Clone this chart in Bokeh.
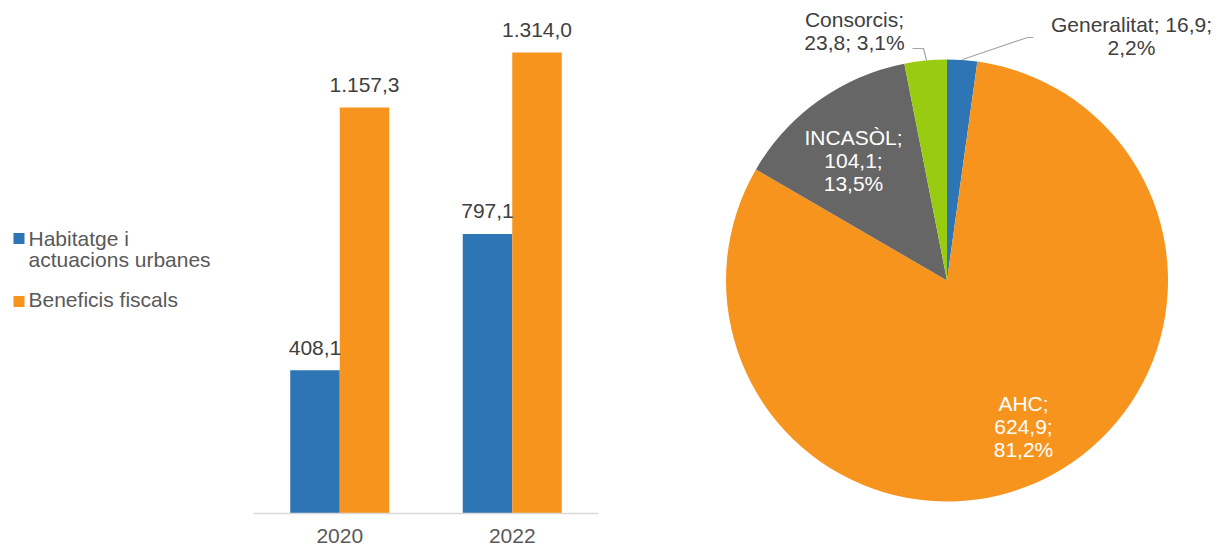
import math
from bokeh.plotting import figure
from bokeh.layouts import row
from bokeh.models import ColumnDataSource, Range1d, FactorRange
from bokeh.transform import dodge
from bokeh.core.properties import value
from bokeh.embed import file_html
from bokeh.resources import INLINE

# ---------------- data ----------------
years = ["2020", "2022"]
habitatge = [408.1, 797.1]
beneficis = [1157.3, 1314.0]
series_names = ["Habitatge i\nactuacions urbanes", "Beneficis fiscals"]

pie_names = ["Generalitat", "AHC", "INCASÒL", "Consorcis"]
pie_values = [16.9, 624.9, 104.1, 23.8]
pie_pcts = [2.2, 81.2, 13.5, 3.1]

BLUE = "#2E75B6"
ORANGE = "#F7941E"
GRAY = "#666666"
GREEN = "#99CC11"
FONT = "Liberation Sans"
FS = "21px"

def fmt(v):
    s = f"{v:,.1f}"
    return s.replace(",", "X").replace(".", ",").replace("X", ".")

FH = 513  # common frame height

# ---------------- legend figure ----------------
LW = 248
lg = figure(frame_width=LW, frame_height=FH, x_range=Range1d(0, LW), y_range=Range1d(FH, 0),
            output_backend="svg", toolbar_location=None,
            x_axis_location=None, y_axis_location=None,
            min_border=0, outline_line_color=None)
lg.grid.visible = False
lg.rect(x=[18.5, 18.5], y=[238, 301], width=11, height=11,
        color=[BLUE, ORANGE], line_color=None)
lg.text(x=[28, 28], y=[248.5, 298.5], text=series_names,
        text_font=value(FONT), text_font_size=FS, text_color="#595959",
        text_baseline="middle", text_align="left", text_line_height=0.89)

# ---------------- bar figure ----------------
YMAX = FH / 0.3508
src = ColumnDataSource(dict(year=years, hab=habitatge, ben=beneficis,
                            hab_lbl=[fmt(v) for v in habitatge],
                            ben_lbl=[fmt(v) for v in beneficis]))
off = 22.5 * YMAX / FH
src.data["hab_y"] = [v + off for v in habitatge]
src.data["ben_y"] = [v + off for v in beneficis]

bar = figure(frame_width=345, frame_height=FH, x_range=FactorRange(*years, range_padding=0),
             y_range=Range1d(0, YMAX), output_backend="svg", toolbar_location=None,
             min_border_left=5, min_border_right=20, min_border_top=0,
             min_border_bottom=0, outline_line_color=None)
bar.grid.visible = False
bar.yaxis.visible = False
W = 0.287
bar.vbar(x=dodge("year", -W / 2, range=bar.x_range), top="hab", width=W,
         source=src, color=BLUE, line_color=None)
bar.vbar(x=dodge("year", W / 2, range=bar.x_range), top="ben", width=W,
         source=src, color=ORANGE, line_color=None)
bar.text(x=dodge("year", -W / 2, range=bar.x_range), y="hab_y", text="hab_lbl",
         source=src, text_font=value(FONT), text_font_size=FS, text_color="#404040",
         text_align="center", text_baseline="middle")
bar.text(x=dodge("year", W / 2, range=bar.x_range), y="ben_y", text="ben_lbl",
         source=src, text_font=value(FONT), text_font_size=FS, text_color="#404040",
         text_align="center", text_baseline="middle")
ax = bar.xaxis[0]
ax.axis_line_color = "#D9D9D9"
ax.axis_line_width = 1.5
ax.major_tick_line_color = None
ax.minor_tick_line_color = None
ax.major_label_text_font = FONT
ax.major_label_text_font_size = FS
ax.major_label_text_color = "#595959"
ax.major_label_standoff = 9

# ---------------- pie figure ----------------
PW = 595
pie = figure(frame_width=PW, frame_height=FH, x_range=Range1d(0, PW), y_range=Range1d(0, FH),
             output_backend="svg", toolbar_location=None,
             x_axis_location=None, y_axis_location=None,
             min_border=0, outline_line_color=None)
pie.grid.visible = False
total = sum(pie_values)
starts, ends = [], []
cum = 0.0
for v in pie_values:
    starts.append(math.pi / 2 - 2 * math.pi * cum / total)
    cum += v
    ends.append(math.pi / 2 - 2 * math.pi * cum / total)
CX, CY, R = 328.5, 233, 221
pie.wedge(x=CX, y=CY, radius=R, start_angle=starts, end_angle=ends,
          direction="clock", fill_color=[BLUE, ORANGE, GRAY, GREEN], line_color=None)

labels = [
    f"{pie_names[0]}; {fmt(pie_values[0])};\n{fmt(pie_pcts[0])}%",
    f"{pie_names[1]};\n{fmt(pie_values[1])};\n{fmt(pie_pcts[1])}%",
    f"{pie_names[2]};\n{fmt(pie_values[2])};\n{fmt(pie_pcts[2])}%",
    f"{pie_names[3]};\n{fmt(pie_values[3])}; {fmt(pie_pcts[3])}%",
]
lx = [513, 405, 235, 236]
ly = [478, 87, 353, 483]
lc = ["#404040", "white", "white", "#404040"]
pie.text(x=lx, y=ly, text=labels, text_font=value(FONT), text_font_size=FS,
         text_color=lc, text_align="center", text_baseline="middle",
         text_line_height=1.0)
pie.line(x=[344, 409, 415], y=[454, 476, 476], line_color="#A6A6A6", line_width=1.2)
pie.line(x=[294, 305, 308], y=[465, 465, 453], line_color="#A6A6A6", line_width=1.2)

layout = row(lg, bar, pie)
open("out.html", "w").write(file_html(layout, INLINE))
